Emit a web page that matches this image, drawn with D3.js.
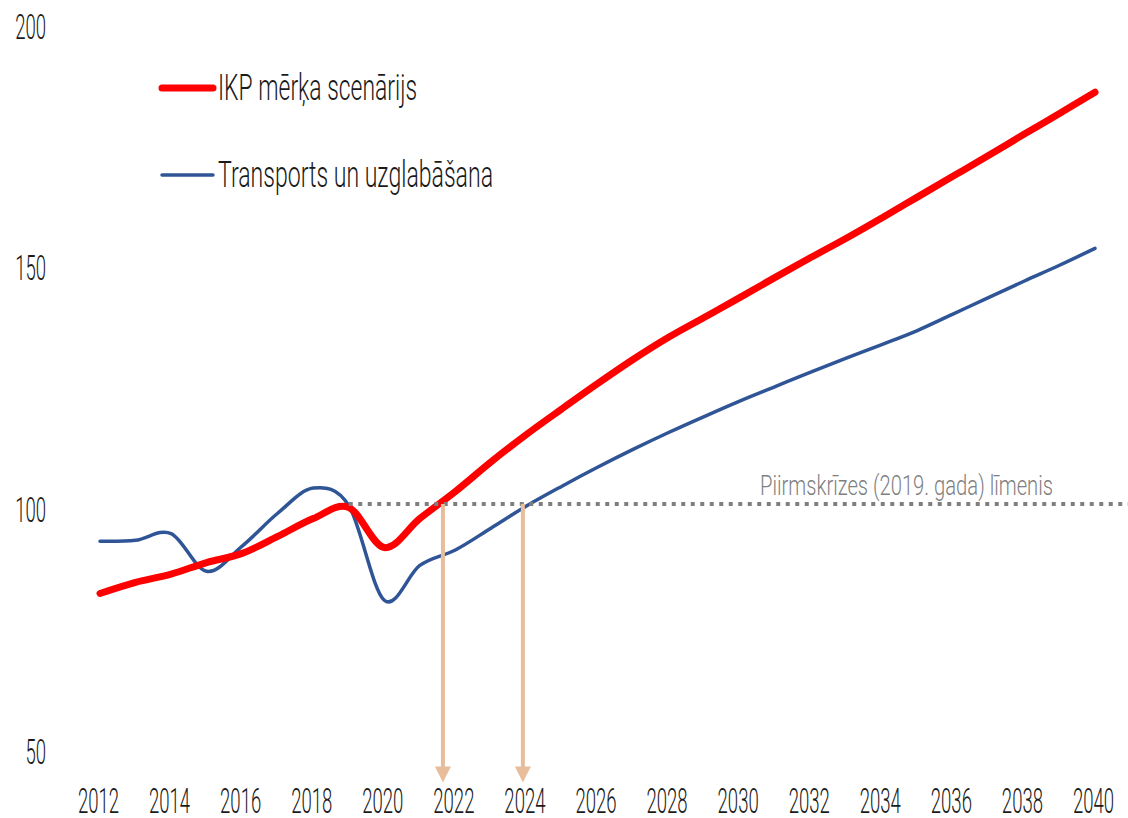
<!DOCTYPE html>
<html>
<head>
<meta charset="utf-8">
<script src="https://cdn.jsdelivr.net/npm/d3@7"></script>
<style>
  body { margin: 0; background: #fff; }
  svg { display: block; }
  text { font-family: Roboto, "Open Sans", sans-serif; font-weight: 300; }
</style>
</head>
<body>
<svg id="chart" width="1128" height="818"></svg>
<script>
// chart data
const years = [2012, 2013, 2014, 2015, 2016, 2017, 2018, 2019, 2020, 2021,
  2022, 2023, 2024, 2025, 2026, 2027, 2028, 2029, 2030, 2031,
  2032, 2033, 2034, 2035, 2036, 2037, 2038, 2039, 2040];

const gdpTarget = [82.8, 85.1, 86.8, 89.2, 91.1, 94.6, 98.3, 100.6, 92.3, 98.3,
  103.9, 110.0, 115.7, 121.0, 126.2, 131.2, 135.8, 139.9, 144.0, 148.2,
  152.3, 156.3, 160.5, 164.8, 169.1, 173.4, 177.8, 182.1, 186.5];

const transport = [93.6, 93.8, 95.2, 87.4, 92.6, 99.4, 104.6, 101.0, 81.4, 88.6,
  91.8, 96.3, 100.9, 105.0, 108.9, 112.6, 116.1, 119.4, 122.6, 125.6,
  128.6, 131.5, 134.3, 137.2, 140.6, 144.0, 147.4, 150.7, 154.2];

const xTicks = [2012, 2014, 2016, 2018, 2020, 2022, 2024, 2026, 2028, 2030,
  2032, 2034, 2036, 2038, 2040];
const yTicks = [50, 100, 150, 200];

// pre-crisis level (dotted line) and the years where each series gets back to it
const preCrisisLevel = 101.3;
const preCrisisSpan = [2019, 2041];
const recoveryYears = [2021.65, 2023.9];
const arrowBottom = 43.7;

const seriesNames = ['IKP mērķa scenārijs', 'Transports un uzglabāšana'];
const levelLabel = 'Piirmskrīzes (2019. gada) līmenis';

const svg = d3.select('#chart');

const x = d3.scaleLinear().domain([2012, 2040]).range([100, 1095]);
const y = d3.scaleLinear().domain([50, 200]).range([752, 27]);

const squeeze = 0.53; // reference font is a very narrow one

function narrow(sel) {
  sel.each(function () {
    const w = this.getComputedTextLength();
    d3.select(this)
      .attr('textLength', w * squeeze)
      .attr('lengthAdjust', 'spacingAndGlyphs');
  });
}

// axes, labels only
svg.append('g')
  .attr('transform', 'translate(-2, 788)')
  .call(d3.axisBottom(x).tickValues(xTicks).tickFormat(d3.format('d')).tickSize(0).tickPadding(0))
  .call(g => g.select('.domain').remove())
  .call(g => g.selectAll('text')
    .attr('font-size', 35)
    .attr('font-family', null)
    .attr('fill', '#1a1a1a')
    .call(narrow));

svg.append('g')
  .attr('transform', 'translate(46, 0)')
  .call(d3.axisLeft(y).tickValues(yTicks).tickSize(0).tickPadding(0))
  .call(g => g.select('.domain').remove())
  .call(g => g.selectAll('text')
    .attr('font-size', 35)
    .attr('font-family', null)
    .attr('fill', '#1a1a1a')
    .call(narrow));

// series lines
const line = d3.line()
  .x((d, i) => x(years[i]))
  .y(d => y(d))
  .curve(d3.curveCardinal);

svg.append('path')
  .datum(transport)
  .attr('fill', 'none')
  .attr('stroke', '#2f5597')
  .attr('stroke-width', 3.5)
  .attr('stroke-linecap', 'round')
  .attr('d', line);

svg.append('path')
  .datum(gdpTarget)
  .attr('fill', 'none')
  .attr('stroke', '#ff0000')
  .attr('stroke-width', 7)
  .attr('stroke-linecap', 'round')
  .attr('d', line);

// dotted pre-crisis level
svg.append('line')
  .attr('x1', x(preCrisisSpan[0]))
  .attr('x2', x(preCrisisSpan[1]))
  .attr('y1', y(preCrisisLevel))
  .attr('y2', y(preCrisisLevel))
  .attr('stroke', '#7f7f7f')
  .attr('stroke-width', 4)
  .attr('stroke-dasharray', '4 5.5');

svg.append('text')
  .attr('x', 760)
  .attr('y', y(preCrisisLevel) - 9)
  .attr('font-size', 28)
  .attr('fill', '#7f7f7f')
  .attr('textLength', 293)
  .attr('lengthAdjust', 'spacingAndGlyphs')
  .text(levelLabel);

// arrows down to the x axis
const arrowColor = '#e8bd9b';
const arrows = svg.append('g').selectAll('g')
  .data(recoveryYears)
  .join('g');

arrows.append('line')
  .attr('x1', d => x(d))
  .attr('x2', d => x(d))
  .attr('y1', y(preCrisisLevel))
  .attr('y2', y(arrowBottom) - 15)
  .attr('stroke', arrowColor)
  .attr('stroke-width', 4);

arrows.append('path')
  .attr('fill', arrowColor)
  .attr('d', d => {
    const cx = x(d), tip = y(arrowBottom);
    return `M${cx - 8},${tip - 16}L${cx + 8},${tip - 16}L${cx},${tip}Z`;
  });

// legend
const legend = svg.append('g');
const legendStyle = [
  { color: '#ff0000', width: 7, y: 88, textWidth: 199 },
  { color: '#2f5597', width: 3.5, y: 175, textWidth: 275 }
];

legendStyle.forEach((s, i) => {
  legend.append('line')
    .attr('x1', 162)
    .attr('x2', 213)
    .attr('y1', s.y)
    .attr('y2', s.y)
    .attr('stroke', s.color)
    .attr('stroke-width', s.width)
    .attr('stroke-linecap', 'round');

  legend.append('text')
    .attr('x', 218)
    .attr('y', s.y + 12)
    .attr('font-size', 36)
    .attr('fill', '#1a1a1a')
    .attr('textLength', s.textWidth)
    .attr('lengthAdjust', 'spacingAndGlyphs')
    .text(seriesNames[i]);
});
</script>
</body>
</html>
